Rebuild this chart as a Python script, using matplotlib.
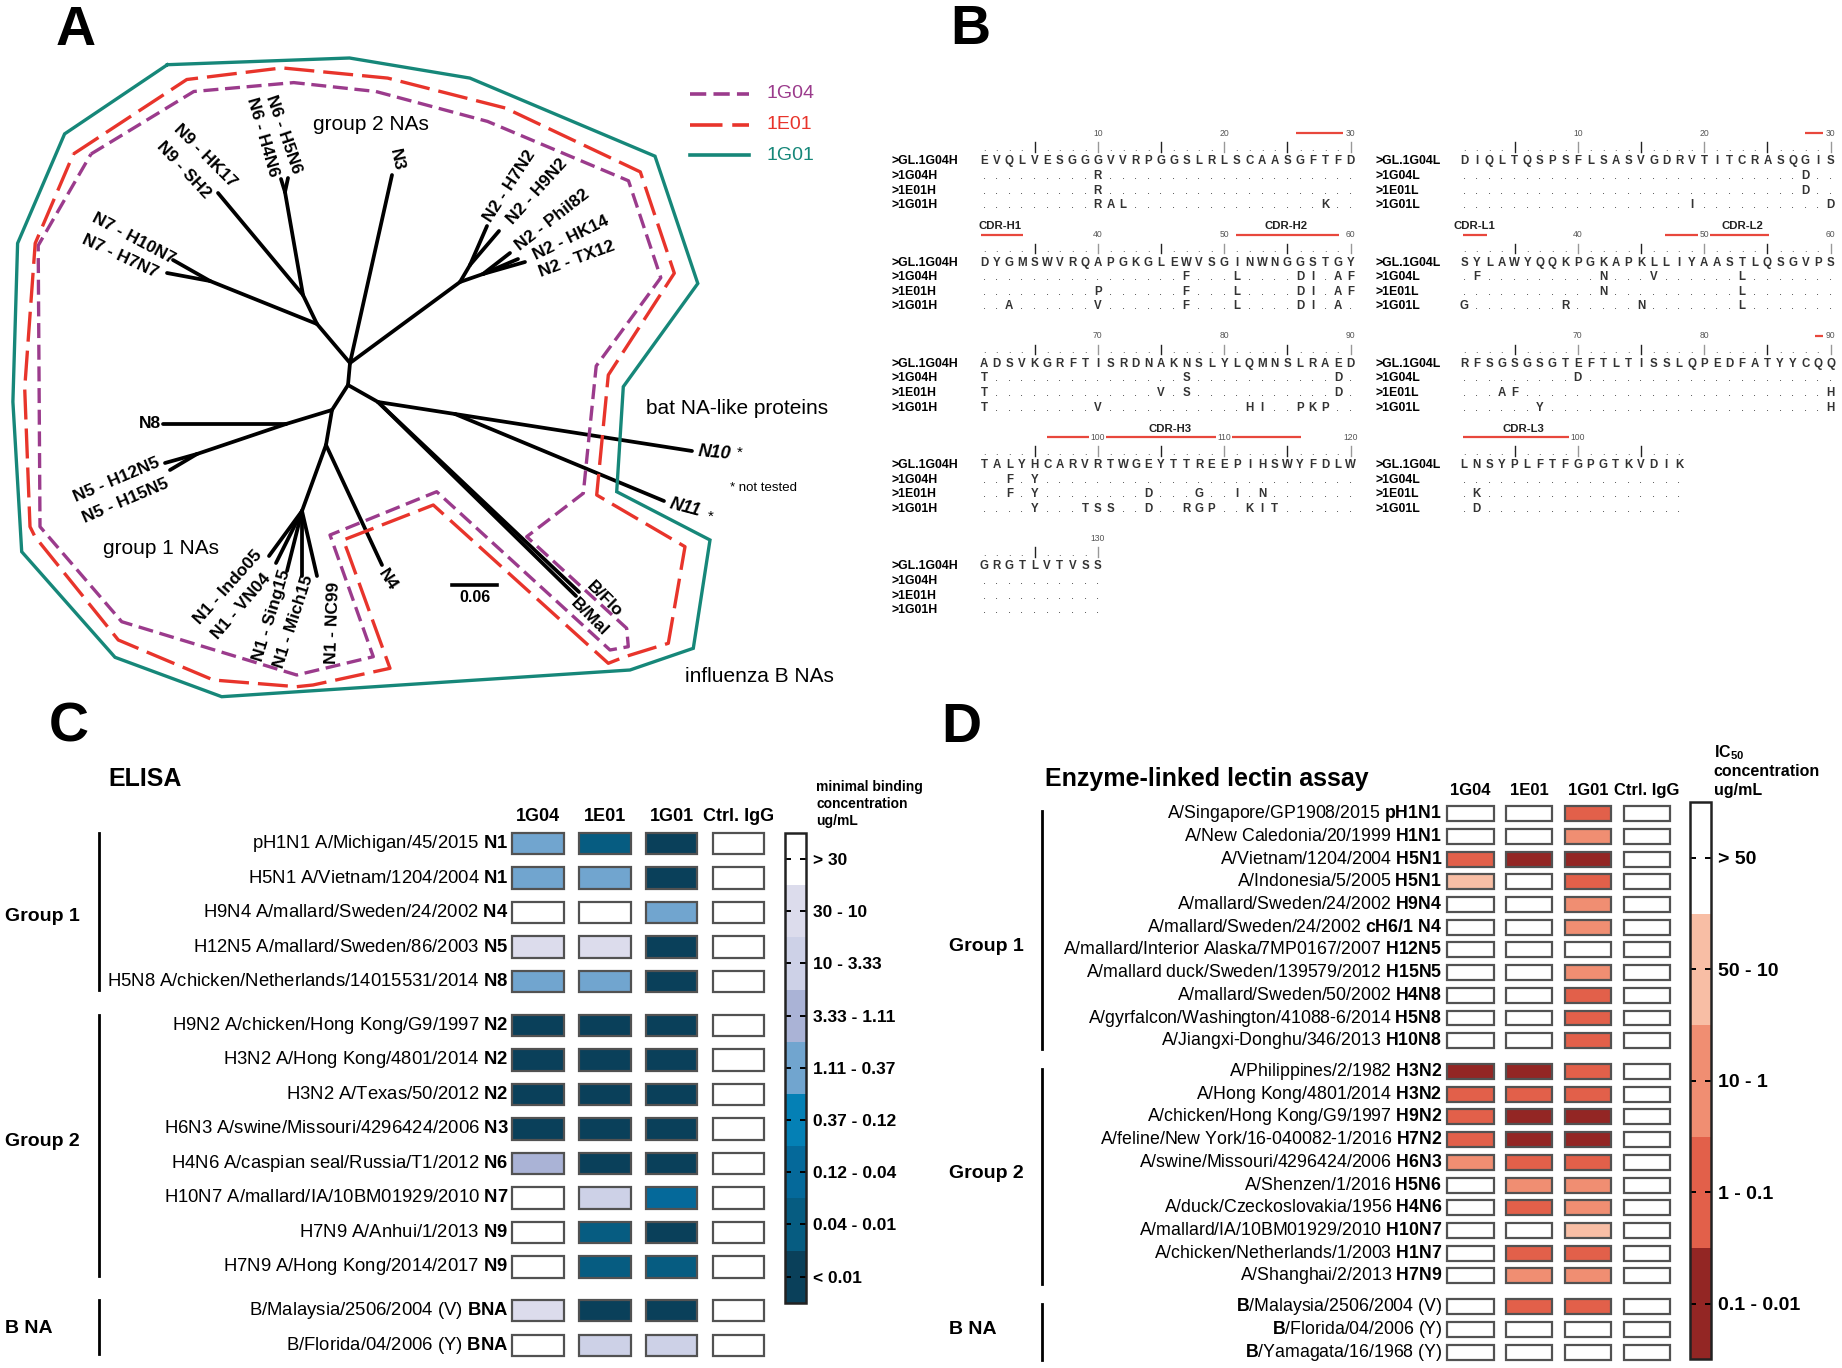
import numpy as np
import matplotlib
matplotlib.use('Agg')
import matplotlib.pyplot as plt
import matplotlib.transforms as mtransforms
from matplotlib.patches import Rectangle
from matplotlib.colors import ListedColormap, BoundaryNorm
from matplotlib.cm import ScalarMappable

plt.rcParams['font.family'] = ['Liberation Sans', 'DejaVu Sans']
plt.rcParams['mathtext.fontset'] = 'custom'
plt.rcParams['mathtext.rm'] = 'Liberation Sans'
plt.rcParams['mathtext.bf'] = 'Liberation Sans:bold'
plt.rcParams['mathtext.it'] = 'Liberation Sans:italic'

# ============================ DATA ============================
# ---- Panel A: unrooted NA tree (node positions, px) ----
tree_nodes = {
    'C0': (350, 363), 'C1': (348, 385),
    'G2': (317, 324), 'N7n': (210, 281), 'N7a': (173, 260), 'N7b': (167, 273),
    'A6': (303, 295), 'N6n': (285, 192), 'N6a': (288, 178), 'N6b': (281, 179),
    'N9': (218, 193), 'N3': (392, 175),
    'N2n': (460, 282), 'N2u': (470, 265), 'N2l': (483, 274),
    'N2a': (487, 226), 'N2b': (499, 231), 'N2c': (510, 253), 'N2d': (518, 259), 'N2e': (525, 262),
    'P': (378, 402), 'Bf': (579, 592), 'Bm': (576, 596),
    'Q': (455, 414), 'N10': (692, 451), 'N11': (664, 501),
    'G1': (332, 410), 'N8j': (286, 424), 'N8': (163, 424), 'N5n': (197, 454),
    'N5a': (165, 463), 'N5b': (170, 470),
    'N14': (326, 445), 'N4': (382, 565), 'N1n': (302, 511),
    'N1a': (269, 556), 'N1b': (276, 563), 'N1c': (287, 571), 'N1d': (302, 576), 'N1e': (317, 576),
}
tree_edges = [('C0', 'C1'), ('C0', 'G2'), ('G2', 'N7n'), ('N7n', 'N7a'), ('N7n', 'N7b'),
              ('G2', 'A6'), ('A6', 'N6n'), ('N6n', 'N6a'), ('N6n', 'N6b'), ('A6', 'N9'),
              ('C0', 'N3'), ('C0', 'N2n'), ('N2n', 'N2u'), ('N2u', 'N2a'), ('N2u', 'N2b'),
              ('N2n', 'N2l'), ('N2l', 'N2c'), ('N2l', 'N2d'), ('N2l', 'N2e'),
              ('C1', 'P'), ('P', 'Bf'), ('P', 'Bm'), ('P', 'Q'), ('Q', 'N10'), ('Q', 'N11'),
              ('C1', 'G1'), ('G1', 'N8j'), ('N8j', 'N8'), ('N8j', 'N5n'), ('N5n', 'N5a'), ('N5n', 'N5b'),
              ('G1', 'N14'), ('N14', 'N4'), ('N14', 'N1n'), ('N1n', 'N1a'), ('N1n', 'N1b'),
              ('N1n', 'N1c'), ('N1n', 'N1d'), ('N1n', 'N1e')]
tree_labels = [
    ('N9 - HK17', 205.6, 156.2, -45), ('N9 - SH2', 183.3, 169.6, -47),
    ('N6 - H5N6', 283.7, 133.9, -71), ('N6 - H4N6', 262.6, 137.5, -74),
    ('N3', 396.5, 159.4, -78),
    ('N2 - H7N2', 509.9, 186.6, 57), ('N2 - H9N2', 537.5, 191.1, 48),
    ('N2 - Phil82', 552.2, 220.1, 38), ('N2 - HK14', 571.0, 237.9, 26),
    ('N2 - TX12', 576.8, 258.9, 20),
    ('N7 - H10N7', 133.9, 238.8, -28), ('N7 - H7N7', 120.4, 256.7, -25),
    ('N5 - H12N5', 117.0, 479.5, 23), ('N5 - H15N5', 125.5, 500.5, 23),
    ('N1 - Indo05', 227.9, 587.0, 48), ('N1 - VN04', 240.8, 606.2, 49),
    ('N1 - Sing15', 271.4, 615.1, 73), ('N1 - Mich15', 293.7, 621.4, 72),
    ('N1 - NC99', 333.0, 622.7, 88), ('N4', 387.7, 580.3, -57),
    ('B/Flo', 604.0, 599.0, -45), ('B/Mal', 589.0, 617.3, -45),
]
hull_1G01 = [(167.4, 64.7), (349.5, 58.0), (469.9, 78.1), (655.0, 156.2), (697.8, 283.5),
             (623.3, 386.7), (616.7, 491.7), (710.0, 540.0), (693.3, 648.3), (630.0, 670.0),
             (221.7, 696.7), (115.0, 657.3), (21.7, 551.7), (12.9, 401.8), (17.6, 243.3),
             (64.6, 133.9)]
hull_1E01 = [(73.4, 154.0), (186.8, 79.5), (282.0, 67.9), (387.7, 78.1), (505.2, 108.0),
             (640.3, 171.9), (674.3, 273.2), (608.3, 375.0), (596.7, 495.0), (685.0, 546.7),
             (668.3, 643.3), (625.0, 656.7), (608.3, 663.3), (433.3, 505.0), (343.3, 540.0),
             (348.3, 553.3), (390.0, 668.3), (313.0, 685.0), (296.7, 686.7), (213.3, 680.0),
             (118.3, 640.0), (35.0, 536.7), (30.0, 526.7), (24.7, 388.4), (35.2, 243.3)]
hull_1G04 = [(91.0, 154.0), (193.8, 91.5), (293.7, 82.6), (375.9, 91.5), (487.5, 121.4),
             (628.5, 180.8), (660.8, 277.7), (596.2, 366.0), (583.3, 493.3), (526.7, 536.7),
             (626.7, 628.3), (628.3, 646.7), (610.0, 650.0), (436.7, 491.7), (330.0, 535.0),
             (373.3, 656.7), (296.7, 675.0), (121.7, 621.7), (40.0, 526.7), (38.2, 245.5)]
antibodies = ['1G04', '1E01', '1G01']
ab_colors = ['#9b3b8c', '#e8342b', '#168779']

# ---- Panel B: sequence alignment ----
heavy_names = ['>GL.1G04H', '>1G04H', '>1E01H', '>1G01H']
heavy_germline = ("EVQLVESGGGVVRPGGSLRLSCAASGFTFD" "DYGMSWVRQAPGKGLEWVSGINWNGGSTGY"
                  "ADSVKGRFTISRDNAKNSLYLQMNSLRAED" "TALYHCARVRTWGEYTTREEPIHSWYFDLW"
                  "GRGTLVTVSS")
heavy_mutations = [
    {10: 'R', 47: 'F', 51: 'L', 56: 'D', 57: 'I', 59: 'A', 60: 'F', 61: 'T', 77: 'S', 89: 'D',
     93: 'F', 95: 'Y'},
    {10: 'R', 40: 'P', 47: 'F', 51: 'L', 56: 'D', 57: 'I', 59: 'A', 60: 'F', 61: 'T', 75: 'V',
     77: 'S', 89: 'D', 93: 'F', 95: 'Y', 104: 'D', 108: 'G', 111: 'I', 113: 'N'},
    {10: 'R', 11: 'A', 12: 'L', 28: 'K', 33: 'A', 40: 'V', 47: 'F', 51: 'L', 56: 'D', 57: 'I',
     59: 'A', 61: 'T', 70: 'V', 82: 'H', 83: 'I', 86: 'P', 87: 'K', 88: 'P', 95: 'Y', 99: 'T',
     100: 'S', 101: 'S', 104: 'D', 107: 'R', 108: 'G', 109: 'P', 112: 'K', 113: 'I', 114: 'T'},
]
heavy_cdr_spans = [(0, 25.7, 29.4), (1, 0.8, 4.1), (1, 20.9, 29.1), (3, 6.0, 26.1)]
heavy_cdr_names = [('CDR-H1', 1, 2.3), ('CDR-H2', 1, 24.9), ('CDR-H3', 3, 15.7)]

light_names = ['>GL.1G04L', '>1G04L', '>1E01L', '>1G01L']
light_germline = ("DIQLTQSPSFLSASVGDRVTITCRASQGIS" "SYLAWYQQKPGKAPKLLIYAASTLQSGVPS"
                  "RFSGSGSGTEFTLTISSLQPEDFATYYCQQ" "LNSYPLFTFGPGTKVDIK")
light_mutations = [
    {28: 'D', 32: 'F', 42: 'N', 46: 'V', 53: 'L', 70: 'D'},
    {28: 'D', 42: 'N', 53: 'L', 64: 'A', 65: 'F', 90: 'H', 92: 'K'},
    {19: 'I', 30: 'D', 31: 'G', 39: 'R', 45: 'N', 53: 'L', 67: 'Y', 90: 'H', 92: 'D'},
]
light_cdr_spans = [(0, 28.0, 29.4), (1, 0.95, 2.8), (1, 16.9, 25.1), (2, 28.8, 29.4), (3, 0.95, 9.3)]
light_cdr_names = [('CDR-L1', 1, 1.8), ('CDR-L2', 1, 23.0), ('CDR-L3', 3, 5.7)]

# ---- Panel C: ELISA ----
elisa_columns = ['1G04', '1E01', '1G01', 'Ctrl. IgG']
elisa_strains = ['pH1N1 A/Michigan/45/2015', 'H5N1 A/Vietnam/1204/2004',
                 'H9N4 A/mallard/Sweden/24/2002', 'H12N5 A/mallard/Sweden/86/2003',
                 'H5N8 A/chicken/Netherlands/14015531/2014',
                 'H9N2 A/chicken/Hong Kong/G9/1997', 'H3N2 A/Hong Kong/4801/2014',
                 'H3N2 A/Texas/50/2012', 'H6N3 A/swine/Missouri/4296424/2006',
                 'H4N6 A/caspian seal/Russia/T1/2012', 'H10N7 A/mallard/IA/10BM01929/2010',
                 'H7N9 A/Anhui/1/2013', 'H7N9 A/Hong Kong/2014/2017',
                 'B/Malaysia/2506/2004 (V)', 'B/Florida/04/2006 (Y)']
elisa_na = ['N1', 'N1', 'N4', 'N5', 'N8', 'N2', 'N2', 'N2', 'N3', 'N6', 'N7', 'N9', 'N9', 'BNA', 'BNA']
elisa_group_names = ['Group 1', 'Group 2', 'B NA']
elisa_group_sizes = [5, 8, 2]
elisa_levels = ['> 30', '30 - 10', '10 - 3.33', '3.33 - 1.11', '1.11 - 0.37',
                '0.37 - 0.12', '0.12 - 0.04', '0.04 - 0.01', '< 0.01']
elisa_colors = ['#ffffff', '#dcdcec', '#cdd1e7', '#aab3d6', '#71a5cf',
                '#0480b5', '#05699a', '#065c81', '#0a405a']
elisa_values = [[4, 7, 8, 0], [4, 4, 8, 0], [0, 0, 4, 0], [1, 1, 8, 0], [4, 4, 8, 0],
                [8, 8, 8, 0], [8, 8, 8, 0], [8, 8, 8, 0], [8, 8, 8, 0], [3, 8, 8, 0],
                [0, 2, 6, 0], [0, 7, 8, 0], [0, 7, 7, 0],
                [1, 8, 8, 0], [0, 2, 2, 0]]

# ---- Panel D: enzyme-linked lectin assay ----
ella_columns = ['1G04', '1E01', '1G01', 'Ctrl. IgG']
ella_labels = [r'A/Singapore/GP1908/2015 $\mathbf{pH1N1}$',
               r'A/New Caledonia/20/1999 $\mathbf{H1N1}$',
               r'A/Vietnam/1204/2004 $\mathbf{H5N1}$',
               r'A/Indonesia/5/2005 $\mathbf{H5N1}$',
               r'A/mallard/Sweden/24/2002 $\mathbf{H9N4}$',
               r'A/mallard/Sweden/24/2002 $\mathbf{cH6/1\ N4}$',
               r'A/mallard/Interior Alaska/7MP0167/2007 $\mathbf{H12N5}$',
               r'A/mallard duck/Sweden/139579/2012 $\mathbf{H15N5}$',
               r'A/mallard/Sweden/50/2002 $\mathbf{H4N8}$',
               r'A/gyrfalcon/Washington/41088-6/2014 $\mathbf{H5N8}$',
               r'A/Jiangxi-Donghu/346/2013 $\mathbf{H10N8}$',
               r'A/Philippines/2/1982 $\mathbf{H3N2}$',
               r'A/Hong Kong/4801/2014 $\mathbf{H3N2}$',
               r'A/chicken/Hong Kong/G9/1997 $\mathbf{H9N2}$',
               r'A/feline/New York/16-040082-1/2016 $\mathbf{H7N2}$',
               r'A/swine/Missouri/4296424/2006 $\mathbf{H6N3}$',
               r'A/Shenzen/1/2016 $\mathbf{H5N6}$',
               r'A/duck/Czeckoslovakia/1956 $\mathbf{H4N6}$',
               r'A/mallard/IA/10BM01929/2010 $\mathbf{H10N7}$',
               r'A/chicken/Netherlands/1/2003 $\mathbf{H1N7}$',
               r'A/Shanghai/2/2013 $\mathbf{H7N9}$',
               r'$\mathbf{B}$/Malaysia/2506/2004 (V)',
               r'$\mathbf{B}$/Florida/04/2006 (Y)',
               r'$\mathbf{B}$/Yamagata/16/1968 (Y)']
ella_group_names = ['Group 1', 'Group 2', 'B NA']
ella_group_sizes = [11, 10, 3]
ella_levels = ['> 50', '50 - 10', '10 - 1', '1 - 0.1', '0.1 - 0.01']
ella_colors = ['#ffffff', '#f8bea5', '#f08e72', '#e2604a', '#932624']
ella_values = [[0, 0, 3, 0], [0, 0, 2, 0], [3, 4, 4, 0], [1, 0, 3, 0], [0, 0, 2, 0],
               [0, 0, 2, 0], [0, 0, 0, 0], [0, 0, 2, 0], [0, 0, 3, 0], [0, 0, 3, 0],
               [0, 0, 3, 0],
               [4, 4, 3, 0], [3, 3, 3, 0], [3, 4, 4, 0], [3, 4, 4, 0], [2, 3, 3, 0],
               [0, 2, 2, 0], [0, 3, 2, 0], [0, 0, 1, 0], [0, 3, 3, 0], [0, 2, 2, 0],
               [0, 3, 3, 0], [0, 0, 0, 0], [0, 0, 0, 0]]

# ============================ FIGURE ============================
W, H = 1842, 1368
fig = plt.figure(figsize=(W / 100, H / 100), dpi=100)
fig.patch.set_facecolor('white')


def px_axes(x0, y0, x1, y1, off=True):
    ax = fig.add_axes([x0 / W, 1 - y1 / H, (x1 - x0) / W, (y1 - y0) / H])
    if off:
        ax.axis('off')
    return ax


def ftext(x, y, s, **kw):
    return fig.text(x / W, 1 - y / H, s, **kw)


# panel letters
for letter, (lx, ly) in zip('ABCD', [(76, 31), (970, 30), (69, 728), (961, 728)]):
    ftext(lx, ly, letter, fontsize=40, fontweight='bold', ha='center', va='center')

# ---------------------------- Panel A ----------------------------
axA = px_axes(0, 0, 921, 700)
axA.set_xlim(0, 921)
axA.set_ylim(700, 0)
for a, b in tree_edges:
    (x0, y0), (x1, y1) = tree_nodes[a], tree_nodes[b]
    axA.plot([x0, x1], [y0, y1], color='black', lw=2.7, solid_capstyle='round', zorder=2)

hull_styles = {'1G04': (4.5, 2.0), '1E01': (9.0, 2.7), '1G01': None}
for name, hull, col in zip(antibodies, [hull_1G04, hull_1E01, hull_1G01], ab_colors):
    xs = [p[0] for p in hull] + [hull[0][0]]
    ys = [p[1] for p in hull] + [hull[0][1]]
    ln, = axA.plot(xs, ys, color=col, lw=2.4, zorder=3, solid_joinstyle='miter')
    if hull_styles[name]:
        ln.set_dashes(hull_styles[name])

for i, (name, col) in enumerate(zip(antibodies, ab_colors)):
    yy = 93.7 + i * 30.8
    ln, = axA.plot([690, 749], [yy, yy], color=col, lw=2.6)
    if hull_styles[name]:
        ln.set_dashes(hull_styles[name])
    axA.text(766, yy, name, color=col, fontsize=14, ha='left', va='center')

for txt, x, y, rot in tree_labels:
    axA.text(x, y, txt, fontsize=12.5, fontweight='bold', rotation=rot,
             ha='center', va='center', rotation_mode='anchor')
axA.text(161, 424, 'N8', fontsize=12.5, fontweight='bold', ha='right', va='center')
axA.text(698, 452, 'N10', fontsize=13, fontweight='bold', style='italic', rotation=-5,
         ha='left', va='center', rotation_mode='anchor')
axA.text(740, 453, '*', fontsize=11, ha='center', va='center')
axA.text(670, 504, 'N11', fontsize=13, fontweight='bold', style='italic', rotation=-15,
         ha='left', va='center', rotation_mode='anchor')
axA.text(711, 517, '*', fontsize=11, ha='center', va='center')

axA.text(371, 125, 'group 2 NAs', fontsize=15, ha='center', va='center')
axA.text(646, 408, 'bat NA-like proteins', fontsize=15, ha='left', va='center')
axA.text(730, 488, '* not tested', fontsize=9.5, ha='left', va='center')
axA.text(103, 549, 'group 1 NAs', fontsize=15, ha='left', va='center')
axA.text(685, 677, 'influenza B NAs', fontsize=15, ha='left', va='center')
axA.plot([452, 497], [585, 585], color='black', lw=2.6)
axA.text(475, 598, '0.06', fontsize=11.5, fontweight='bold', ha='center', va='center')

# ---------------------------- Panel B ----------------------------
RES_PX = 12.64      # px per residue
ROW_PX = 14.6       # px per alignment row
BLOCK_ROWS = 6.935  # rows between blocks
BLOCK_LEN = 30
FIRST_ROW_PX = 160.0
RED = '#e8473c'


def draw_alignment(x_left, x_right, res1_px, names, germline, mutations, spans, cdr_names, label_px):
    ax = px_axes(x_left, 100, x_right, 630)
    ax.set_xlim((x_left - res1_px) / RES_PX + 1, (x_right - res1_px) / RES_PX + 1)
    ax.set_ylim((630 - FIRST_ROW_PX) / ROW_PX, (100 - FIRST_ROW_PX) / ROW_PX)
    label_x = (label_px - res1_px) / RES_PX + 1
    n = len(germline)
    seqs = [germline]
    for mut in mutations:
        seqs.append(''.join(mut.get(k + 1, '.') for k in range(n)))
    nblocks = (n + BLOCK_LEN - 1) // BLOCK_LEN
    for b in range(nblocks):
        y0 = b * BLOCK_ROWS
        seg = min(BLOCK_LEN, n - b * BLOCK_LEN)
        for p in range(10, seg + 1, 10):
            ax.text(p, y0 - 1.83, str(b * BLOCK_LEN + p), ha='center', va='center', fontsize=6.2,
                    color='#555555', zorder=4,
                    bbox=dict(facecolor='white', edgecolor='none', pad=0.8))
        for p in range(1, seg + 1):
            if p % 5 == 0:
                ax.plot([p, p], [y0 - 1.2, y0 - 0.55], color='#999999' if p % 10 == 0 else '#222222',
                        lw=1.0)
            else:
                ax.text(p, y0 - 0.62, '.', ha='center', va='baseline', fontsize=6.5, color='#555555')
        for r, (name, seq) in enumerate(zip(names, seqs)):
            y = y0 + r
            ax.text(label_x, y + 0.3, name, ha='left', va='baseline', fontsize=8.8, fontweight='bold')
            for p in range(1, seg + 1):
                ch = seq[b * BLOCK_LEN + p - 1]
                if ch == '.':
                    ax.text(p, y + 0.3, '.', ha='center', va='baseline', fontsize=8, color='#333333')
                else:
                    ax.text(p, y + 0.3, ch, ha='center', va='baseline', fontsize=8.3,
                            fontweight='bold', color='#333333')
    for b, s0, s1 in spans:
        y = b * BLOCK_ROWS - 1.83
        ax.plot([s0, s1], [y, y], color=RED, lw=1.6, zorder=2, solid_capstyle='butt')
    for txt, b, xpos in cdr_names:
        ax.text(xpos, b * BLOCK_ROWS - 2.4, txt, ha='center', va='center', fontsize=8.2,
                fontweight='bold', color='#222222')
    return ax


draw_alignment(880, 1362, 984, heavy_names, heavy_germline, heavy_mutations,
               heavy_cdr_spans, heavy_cdr_names, 891.7)
draw_alignment(1362, 1842, 1464, light_names, light_germline, light_mutations,
               light_cdr_spans, light_cdr_names, 1375)


# ---------------------------- Heatmaps ----------------------------
def heatmap(x0, y0, pitch_x, pitch_y, gap, values, labels, columns, group_sizes, group_names,
            colors, cw, ch, lab_fs, head_fs, head_y, label_x, bracket_px, group_px, br_ext,
            group_shift):
    n = len(values)
    gidx = np.repeat(np.arange(len(group_sizes)), group_sizes)
    pos = np.arange(n) + gap * gidx
    ncol = len(columns)
    ax = px_axes(x0, y0, x0 + ncol * pitch_x, y0 + (pos[-1] + 1) * pitch_y)
    ax.set_xlim(-0.5, ncol - 0.5)
    ax.set_ylim(pos[-1] + 0.5, -0.5)
    for i in range(n):
        for j in range(ncol):
            ax.add_patch(Rectangle((j - cw / 2, pos[i] - ch / 2), cw, ch,
                                   facecolor=colors[values[i][j]], edgecolor='#525252', lw=1.6))
        ax.text(label_x, pos[i], labels[i], ha='right', va='center', fontsize=lab_fs, clip_on=False)
    for j, c in enumerate(columns):
        ax.text(j, head_y, c, ha='center', va='center', fontsize=head_fs, fontweight='bold')
    trans = mtransforms.blended_transform_factory(fig.transFigure, ax.transData)
    start = 0
    for g, size in enumerate(group_sizes):
        p0, p1 = pos[start], pos[start + size - 1]
        ax.plot([bracket_px / W] * 2, [p0 - br_ext[0], p1 + br_ext[1]], transform=trans,
                color='black', lw=2.0, clip_on=False)
        ax.text(group_px / W, (p0 + p1) / 2 + group_shift[g], group_names[g], transform=trans,
                ha='left', va='center', fontsize=14, fontweight='bold')
        start += size
    return ax


def colorbar(x0, y0, x1, y1, colors, levels, fs):
    cax = px_axes(x0, y0, x1, y1, off=False)
    k = len(colors)
    cmap = ListedColormap(colors[::-1])
    norm = BoundaryNorm(np.arange(k + 1) - 0.5, k)
    sm = ScalarMappable(norm=norm, cmap=cmap)
    cb = fig.colorbar(sm, cax=cax, ticks=np.arange(k))
    cb.ax.set_yticklabels(levels[::-1])
    cb.ax.minorticks_off()
    cb.ax.tick_params(axis='y', direction='in', length=4, width=1.4, left=True, right=True,
                      labelleft=False, labelright=True, pad=5, labelsize=fs)
    for t in cb.ax.get_yticklabels():
        t.set_fontweight('bold')
    cb.outline.set_linewidth(1.8)
    cb.outline.set_edgecolor('#222222')
    return cb


elisa_labels = [s + r' $\mathbf{' + na + '}$' for s, na in zip(elisa_strains, elisa_na)]

# Panel C
heatmap(504.6, 826.4, 66.8, 34.5, 0.27, elisa_values, elisa_labels, elisa_columns,
        elisa_group_sizes, elisa_group_names, elisa_colors, 0.77, 0.62, 13.3, 13, -0.80,
        -0.443, 98.9, 4.8, (0.3, 0.25), (0.1, -0.15, 0.0))
ftext(108, 779, 'ELISA', fontsize=18, fontweight='bold', ha='left', va='center')
colorbar(785.3, 832.9, 806.3, 1302.8, elisa_colors, elisa_levels, 12.5)
for txt, yy in zip(['minimal binding', 'concentration', 'ug/mL'], [787, 803.5, 820.6]):
    ftext(816.5, yy, txt, fontsize=10, fontweight='bold', ha='left', va='center')

# Panel D
heatmap(1441, 802.35, 58.8, 22.7, 0.36, ella_values, ella_labels, ella_columns,
        ella_group_sizes, ella_group_names, ella_colors, 0.79, 0.66, 12.8, 12, -1.03,
        -0.48, 1042.3, 949.4, (0.1, 0.35), (0.84, 0.0, 0.0))
ftext(1044.7, 779, 'Enzyme-linked lectin assay', fontsize=18, fontweight='bold', ha='left', va='center')
colorbar(1690.3, 802.2, 1711.3, 1359.4, ella_colors, ella_levels, 14)
for txt, yy in zip([r'IC$_{\mathbf{50}}$', 'concentration', 'ug/mL'], [753, 771.6, 790.3]):
    ftext(1713.8, yy, txt, fontsize=11.5, fontweight='bold', ha='left', va='center')

fig.savefig('out.png', dpi=100, facecolor='white')
